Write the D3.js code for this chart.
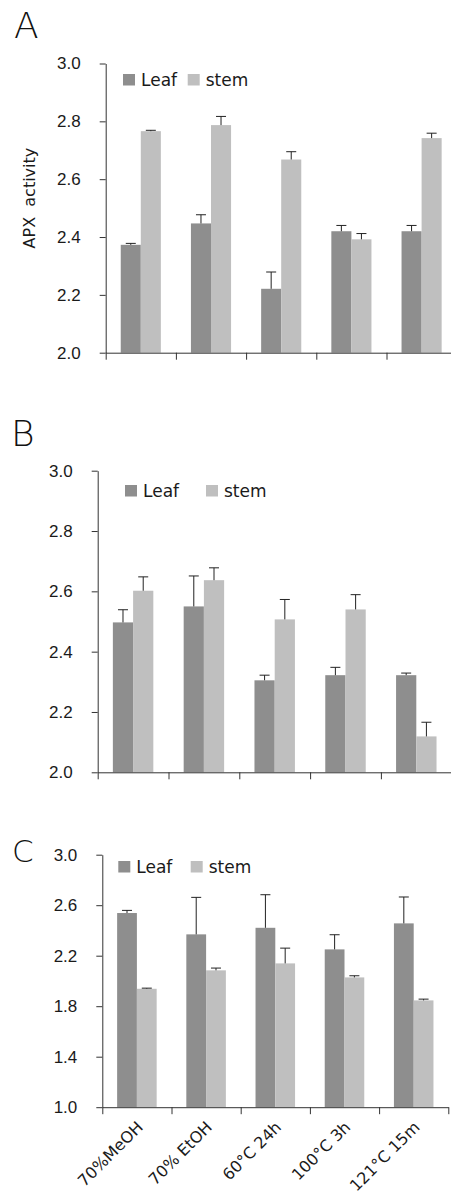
<!DOCTYPE html>
<html>
<head>
<meta charset="utf-8">
<script src="https://cdn.jsdelivr.net/npm/d3@7"></script>
<style>
  body { margin: 0; background: #fff; }
  svg { display: block; font-family: "DejaVu Sans", Verdana, sans-serif; }
  .axis path, .axis line { stroke: #333; }
  .axis text { fill: #1a1a1a; }
</style>
</head>
<body>
<svg id="chart" width="451" height="1197"></svg>
<script>
const categories = ["70%MeOH", "70% EtOH", "60°C 24h", "100°C 3h", "121°C 15m"];
const series = ["Leaf", "stem"];
const seriesColors = ["#8e8e8e", "#bfbfbf"];

// panel A
const leafA = [2.373, 2.447, 2.221, 2.42, 2.42];
const leafAErr = [0.005, 0.03, 0.058, 0.02, 0.02];
const stemA = [2.766, 2.787, 2.668, 2.392, 2.742];
const stemAErr = [0.003, 0.03, 0.027, 0.02, 0.017];

// panel B
const leafB = [2.497, 2.55, 2.305, 2.322, 2.322];
const leafBErr = [0.042, 0.101, 0.017, 0.026, 0.007];
const stemB = [2.602, 2.637, 2.507, 2.54, 2.119];
const stemBErr = [0.046, 0.041, 0.066, 0.049, 0.047];

// panel C
const leafC = [2.538, 2.369, 2.421, 2.25, 2.456];
const leafCErr = [0.021, 0.293, 0.262, 0.116, 0.209];
const stemC = [1.938, 2.084, 2.139, 2.028, 1.846];
const stemCErr = [0.005, 0.018, 0.121, 0.013, 0.01];

const ticksAB = [2.0, 2.2, 2.4, 2.6, 2.8, 3.0];
const ticksC = [1.0, 1.4, 1.8, 2.2, 2.6, 3.0];

const svg = d3.select("#chart");

const panels = [
  {
    letter: "A", letterX: 14, letterY: 38, letterSize: 36,
    left: 105.7, band: 70.2, yTop: 63.5, yBottom: 352.7, domain: [2, 3], ticks: ticksAB,
    values: [leafA, stemA], errors: [leafAErr, stemAErr],
    legendY: 74, legendX: [123, 187.7],
    yLabel: "APX  activity",
  },
  {
    letter: "B", letterX: 11, letterY: 445.7, letterSize: 36,
    left: 97.7, band: 70.8, yTop: 470.7, yBottom: 772.3, domain: [2, 3], ticks: ticksAB,
    values: [leafB, stemB], errors: [leafBErr, stemBErr],
    legendY: 485, legendX: [125, 206],
  },
  {
    letter: "C", letterX: 12, letterY: 862, letterSize: 31,
    left: 102.3, band: 69.2, yTop: 854.7, yBottom: 1107.2, domain: [1, 3], ticks: ticksC,
    values: [leafC, stemC], errors: [leafCErr, stemCErr],
    legendY: 861, legendX: [118.3, 190.7],
    xLabels: true,
  },
];

/**
 * Draws one bar panel with its axes, error bars and legend
 *
 * @param {object} p the panel config
 */
function drawPanel(p) {
  const g = svg.append("g");
  const right = p.left + p.band * categories.length;

  const x0 = d3.scaleBand().domain(categories).range([p.left, right]);
  const x1 = d3.scaleBand().domain(series).range([0, x0.bandwidth()]).paddingOuter(0.75);
  const y = d3.scaleLinear().domain(p.domain).range([p.yBottom, p.yTop]);

  // bars
  series.forEach((s, si) => {
    const rows = categories.map((c, ci) => ({ c, v: p.values[si][ci], e: p.errors[si][ci] }));

    g.append("g")
      .selectAll("rect")
      .data(rows)
      .join("rect")
      .attr("x", (d) => x0(d.c) + x1(s))
      .attr("y", (d) => y(d.v))
      .attr("width", x1.bandwidth())
      .attr("height", (d) => y(p.domain[0]) - y(d.v))
      .attr("fill", seriesColors[si]);

    // positive error bars only, like the original
    const err = g.append("g").attr("stroke", "#222").attr("stroke-width", 1);
    const cx = (d) => x0(d.c) + x1(s) + x1.bandwidth() / 2;
    err.selectAll("line.v")
      .data(rows)
      .join("line")
      .attr("class", "v")
      .attr("x1", cx).attr("x2", cx)
      .attr("y1", (d) => y(d.v)).attr("y2", (d) => y(d.v + d.e));
    err.selectAll("line.cap")
      .data(rows)
      .join("line")
      .attr("class", "cap")
      .attr("x1", (d) => cx(d) - 5).attr("x2", (d) => cx(d) + 5)
      .attr("y1", (d) => y(d.v + d.e)).attr("y2", (d) => y(d.v + d.e));
  });

  // y axis
  g.append("g")
    .attr("class", "axis")
    .attr("transform", `translate(${p.left},0)`)
    .call(d3.axisLeft(y).tickValues(p.ticks).tickFormat(d3.format(".1f")).tickSize(6).tickSizeOuter(0).tickPadding(19))
    .call((a) => a.selectAll("text").attr("font-size", 17));

  // x axis, ticks on the category boundaries
  const xEdge = d3.scaleLinear().domain([0, categories.length]).range([p.left, right]);
  g.append("g")
    .attr("class", "axis")
    .attr("transform", `translate(0,${p.yBottom})`)
    .call(d3.axisBottom(xEdge).ticks(categories.length).tickFormat("").tickSize(7).tickSizeOuter(0));

  if (p.xLabels) {
    g.append("g")
      .selectAll("text")
      .data(categories)
      .join("text")
      .attr("transform", (d) => `translate(${x0(d) + x0.bandwidth() / 2 + 7},${p.yBottom + 21}) rotate(-45)`)
      .attr("text-anchor", "end")
      .attr("font-size", 16)
      .attr("fill", "#1a1a1a")
      .text((d) => d);
  }

  // legend
  const leg = g.append("g");
  series.forEach((s, si) => {
    leg.append("rect")
      .attr("x", p.legendX[si])
      .attr("y", p.legendY)
      .attr("width", 12)
      .attr("height", 11.5)
      .attr("fill", seriesColors[si]);
    leg.append("text")
      .attr("x", p.legendX[si] + 18)
      .attr("y", p.legendY + 12)
      .attr("font-size", 17)
      .attr("fill", "#1a1a1a")
      .text(s);
  });

  if (p.yLabel) {
    g.append("text")
      .attr("transform", `translate(34.5,${(p.yTop + p.yBottom) / 2 - 10}) rotate(-90)`)
      .attr("text-anchor", "middle")
      .attr("font-size", 16)
      .attr("fill", "#1a1a1a")
      .style("white-space", "pre")
      .text(p.yLabel);
  }

  g.append("text")
    .attr("x", p.letterX)
    .attr("y", p.letterY)
    .attr("font-size", p.letterSize)
    .attr("font-weight", 200)
    .attr("fill", "#111")
    .text(p.letter);
}

panels.forEach(drawPanel);
</script>
</body>
</html>
